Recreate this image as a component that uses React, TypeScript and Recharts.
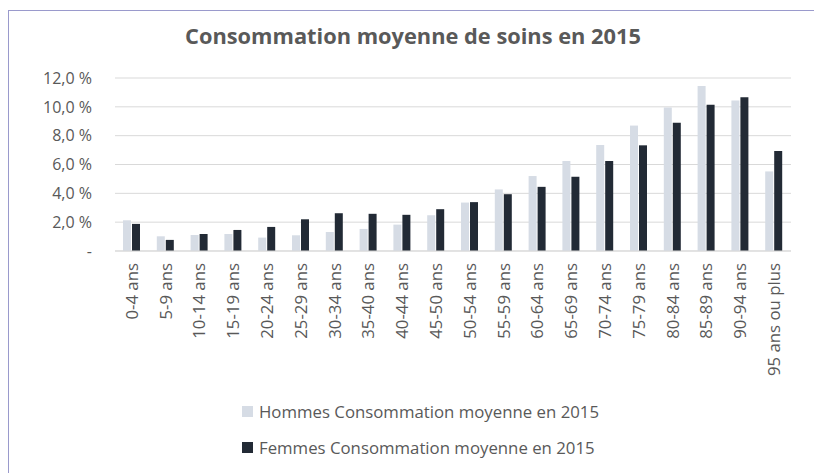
import { BarChart, Bar, XAxis, YAxis, CartesianGrid } from "recharts";

const ageGroups = [
  "0-4 ans", "5-9 ans", "10-14 ans", "15-19 ans", "20-24 ans", "25-29 ans", "30-34 ans",
  "35-40 ans", "40-44 ans", "45-50 ans", "50-54 ans", "55-59 ans", "60-64 ans", "65-69 ans",
  "70-74 ans", "75-79 ans", "80-84 ans", "85-89 ans", "90-94 ans", "95 ans ou plus",
];

const hommes = [2.13, 1.02, 1.11, 1.18, 0.93, 1.09, 1.32, 1.53, 1.83, 2.48, 3.36, 4.27, 5.2, 6.24, 7.35, 8.7, 9.95, 11.44, 10.44, 5.52];
const femmes = [1.88, 0.77, 1.18, 1.46, 1.67, 2.2, 2.62, 2.58, 2.51, 2.9, 3.39, 3.94, 4.45, 5.15, 6.24, 7.33, 8.89, 10.14, 10.67, 6.94];

const yTicks = [0, 2, 4, 6, 8, 10, 12];

const HOMMES_LABEL = "Hommes Consommation moyenne en 2015";
const FEMMES_LABEL = "Femmes Consommation moyenne en 2015";

const HOMMES_COLOR = "#d6dce5";
const FEMMES_COLOR = "#222a35";

const data = ageGroups.map((age, i) => ({ age, hommes: hommes[i], femmes: femmes[i] }));

const legendItems = [
  { label: HOMMES_LABEL, color: HOMMES_COLOR },
  { label: FEMMES_LABEL, color: FEMMES_COLOR },
];

const FONT = "'Open Sans', sans-serif";
const TEXT = "#595959";

const fmtPct = (v: number) => (v === 0 ? "-" : v.toFixed(1).replace(".", ",") + " %");

function AgeTick({ x, y, payload }: any) {
  return (
    <text
      x={x}
      y={y}
      transform={`rotate(-90, ${x}, ${y})`}
      textAnchor="end"
      dy="0.35em"
      fill={TEXT}
      fontSize={16.8}
      fontFamily={FONT}
    >
      {payload.value}
    </text>
  );
}

export default function App() {
  return (
    <div style={{ position: "absolute", left: 0, top: 0, width: 814, height: 473, background: "#fff", overflow: "hidden" }}>
      <div
        style={{
          position: "absolute",
          left: 8,
          top: 10,
          width: 820,
          height: 480,
          borderLeft: "1px solid #9a9acc",
          borderTop: "1px solid #9a9acc",
        }}
      />
      <div
        style={{
          position: "absolute",
          left: 0,
          top: 21,
          width: 814,
          textAlign: "center",
          fontFamily: FONT,
          fontWeight: 700,
          fontSize: 21.8,
          color: TEXT,
          paddingLeft: 12,
          boxSizing: "border-box",
        }}
      >
        Consommation moyenne de soins en 2015
      </div>
      <div style={{ position: "absolute", left: 0, top: 0 }}>
        <BarChart
          width={814}
          height={473}
          data={data}
          margin={{ top: 78, right: 23, bottom: 0, left: 0 }}
          barSize={8}
          barGap={1}
        >
          <CartesianGrid vertical={false} stroke="#d9d9d9" />
          <XAxis
            dataKey="age"
            interval={0}
            height={222}
            tickLine={false}
            tickSize={0}
            tickMargin={12}
            axisLine={{ stroke: "#d9d9d9" }}
            tick={<AgeTick />}
          />
          <YAxis
            width={115}
            domain={[0, 12]}
            ticks={yTicks}
            interval={0}
            tickFormatter={fmtPct}
            axisLine={false}
            tickLine={false}
            tickSize={0}
            tickMargin={23}
            tick={{ fill: TEXT, fontSize: 16, fontFamily: FONT }}
          />
          <Bar dataKey="hommes" name={HOMMES_LABEL} fill={HOMMES_COLOR} isAnimationActive={false} />
          <Bar dataKey="femmes" name={FEMMES_LABEL} fill={FEMMES_COLOR} isAnimationActive={false} />
        </BarChart>
      </div>
      <div style={{ position: "absolute", left: 242, top: 393, fontFamily: FONT, fontSize: 16.8, color: TEXT }}>
        {legendItems.map((item) => (
          <div key={item.label} style={{ display: "flex", alignItems: "center", height: 36 }}>
            <span style={{ width: 11, height: 11, background: item.color, marginRight: 6, display: "inline-block" }} />
            <span>{item.label}</span>
          </div>
        ))}
      </div>
    </div>
  );
}
